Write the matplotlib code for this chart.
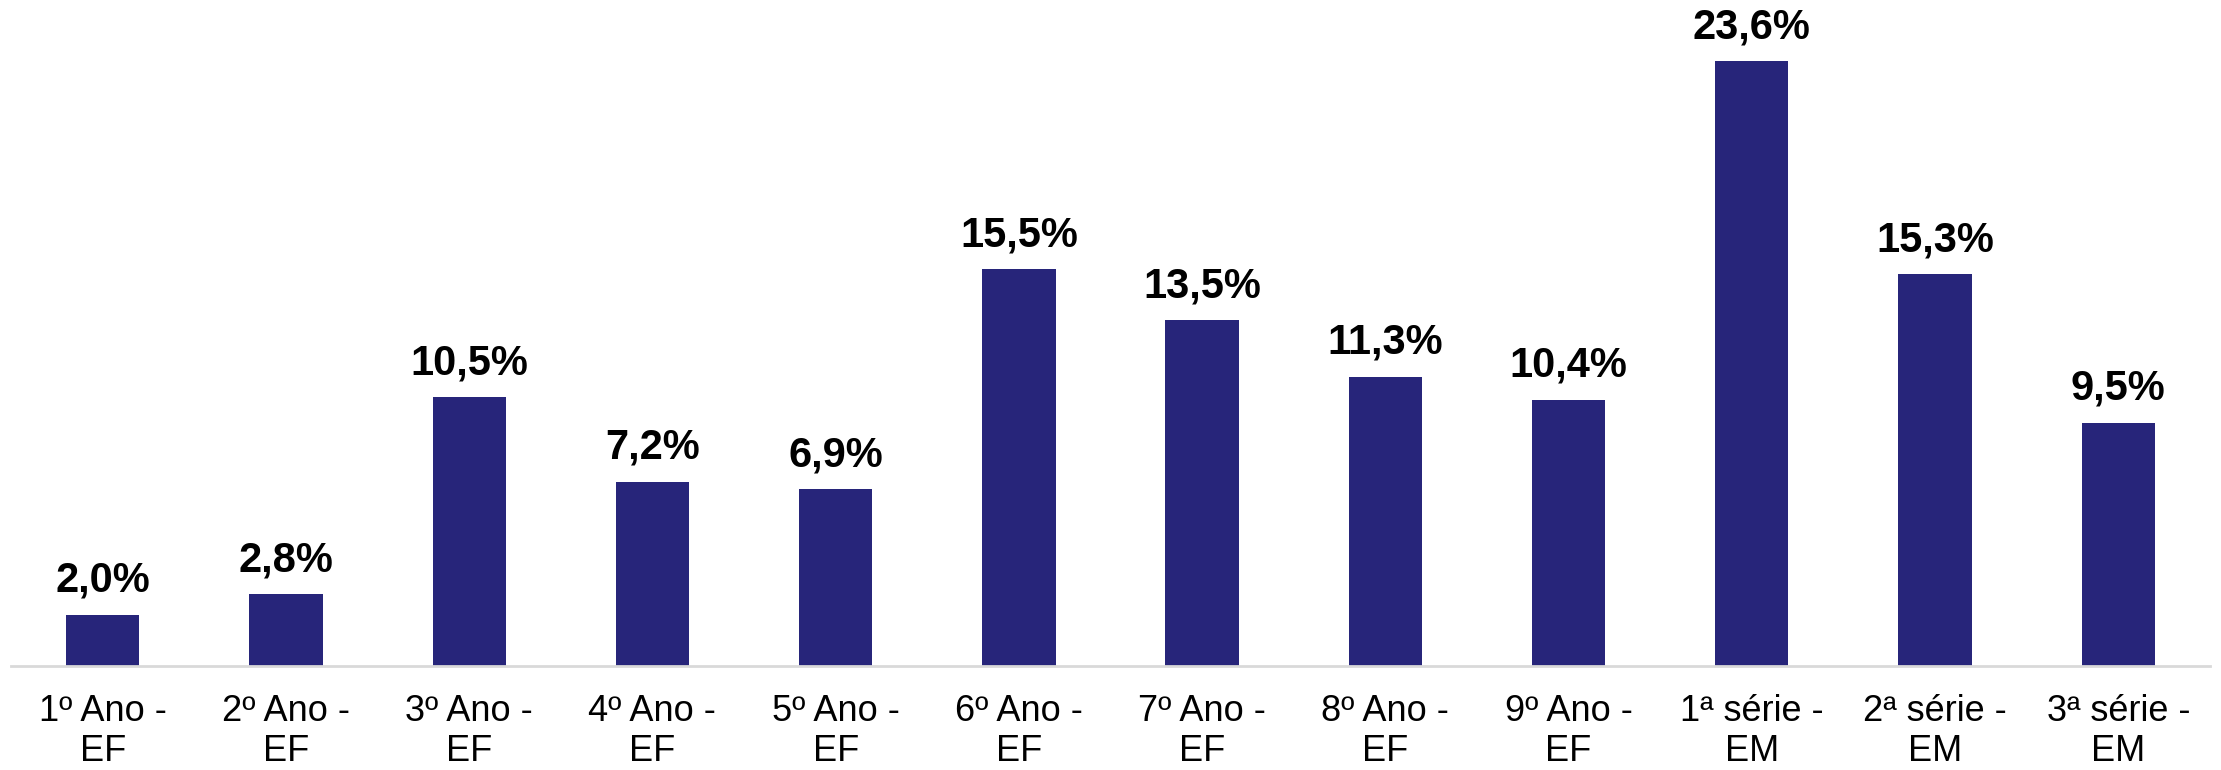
import matplotlib
matplotlib.use("Agg")
import matplotlib.pyplot as plt
import numpy as np

# Distribution by grade
categories = ["1º Ano -\nEF", "2º Ano -\nEF", "3º Ano -\nEF", "4º Ano -\nEF",
              "5º Ano -\nEF", "6º Ano -\nEF", "7º Ano -\nEF", "8º Ano -\nEF",
              "9º Ano -\nEF", "1ª série -\nEM", "2ª série -\nEM", "3ª série -\nEM"]
values = [2.0, 2.8, 10.5, 7.2, 6.9, 15.5, 13.5, 11.3, 10.4, 23.6, 15.3, 9.5]

plt.rcParams['font.family'] = ['Liberation Sans', 'DejaVu Sans']

fig = plt.figure(figsize=(22.21, 7.7), dpi=100)
ax = fig.add_axes([0.005, 0.135, 0.99, 0.865])

x = np.arange(len(categories))
bars = ax.bar(x, values, width=0.4, color="#27257A", zorder=2)

# value labels above each bar
for xi, v in zip(x, values):
    ax.annotate(f"{v:.1f}%".replace(".", ","), (xi, v), xytext=(0, 10),
                textcoords="offset points", ha="center", va="bottom",
                fontsize=30, fontweight="bold", color="black")

ax.set_xlim(-0.5, len(categories) - 0.5)
ax.set_ylim(0, 26)
ax.set_xticks(x)
ax.set_xticklabels(categories, fontsize=26, linespacing=1.2)
ax.tick_params(axis="x", length=0, pad=20)
ax.set_yticks([])

for side in ["top", "right", "left"]:
    ax.spines[side].set_visible(False)
ax.spines["bottom"].set_color("#D9D9D9")
ax.spines["bottom"].set_linewidth(2)

fig.savefig("out.png", dpi=100)
